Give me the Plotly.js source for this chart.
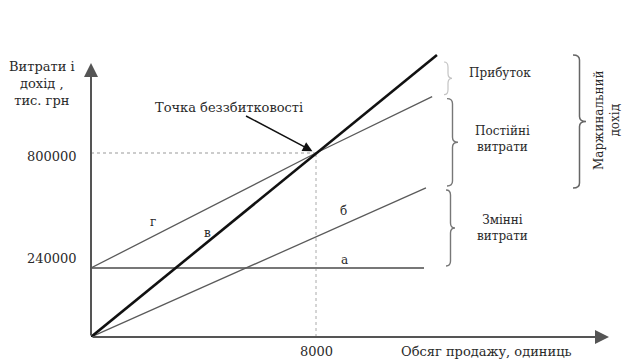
<!DOCTYPE html>
<html><head><meta charset="utf-8">
<script src="https://cdn.plot.ly/plotly-3.0.1.min.js"></script>
<style>html,body{margin:0;padding:0;background:#fff}</style>
</head><body><div id="chart" style="width:623px;height:360px"></div>
<script>
// ---- data ----
const revenueX = [0, 8000, 12300];
const revenueY = [0, 800000, 1226000];
const totalCostX = [0, 8000, 12130];
const totalCostY = [300000, 800000, 1045000];
const variableCostX = [0, 11910];
const variableCostY = [0, 648000];
const fixedCostX = [0, 11840];
const fixedCostY = [300000, 300000];
const breakEvenX = 8000;
const breakEvenY = 800000;
const yTickText = ['240000', '800000'];
const xTickText = ['8000'];
const lineLabels = ['а', 'б', 'в', 'г'];

// ---- layout geometry ----
const W = 623, H = 360;
const M = {l: 91, r: 10, t: 40, b: 23};
const plotW = W - M.l - M.r, plotH = H - M.t - M.b;
const xRange = [0, 18560];
const yRange = [0, 1291300];
const kx = (xRange[1] - xRange[0]) / plotW;
const ky = (yRange[1] - yRange[0]) / plotH;
const px = p => xRange[0] + (p - M.l) * kx;       // pixel -> data x
const py = p => yRange[0] + (H - M.b - p) * ky;   // pixel -> data y
const ppx = p => (p - M.l) / plotW;               // pixel -> paper x
const ppy = p => (H - M.b - p) / plotH;           // pixel -> paper y

const font = {family: 'DejaVu Serif, Liberation Serif, serif', size: 12, color: '#2a2a2a'};
const font13 = Object.assign({}, font, {size: 13});
const gray = '#5a5a5a';

const traces = [
  {x: [0, breakEvenX], y: [breakEvenY, breakEvenY], mode: 'lines', line: {color: '#999', width: 1, dash: 'dot'}},
  {x: [breakEvenX, breakEvenX], y: [0, breakEvenY], mode: 'lines', line: {color: '#aaa', width: 1, dash: 'dot'}},
  {x: fixedCostX, y: fixedCostY, mode: 'lines', line: {color: '#777', width: 1.8}},
  {x: variableCostX, y: variableCostY, mode: 'lines', line: {color: gray, width: 1.3}},
  {x: totalCostX, y: totalCostY, mode: 'lines', line: {color: gray, width: 1.3}},
  {x: revenueX, y: revenueY, mode: 'lines', line: {color: '#111', width: 2.6}}
];
traces.forEach(t => { t.hoverinfo = 'skip'; t.showlegend = false; t.cliponaxis = false; });

function brace(xPix, wPix, yTop, yBot, color, width) {
  const x = px(xPix), w = wPix * kx, h = w / 2, r = 5 * ky, mid = (yTop + yBot) / 2;
  return {
    type: 'path', xref: 'x', yref: 'y', line: {color: color, width: width},
    path: `M ${x},${yTop} Q ${x + h},${yTop} ${x + h},${yTop - r} L ${x + h},${mid + r} ` +
          `Q ${x + h},${mid} ${x + w},${mid} Q ${x + h},${mid} ${x + h},${mid - r} ` +
          `L ${x + h},${yBot + r} Q ${x + h},${yBot} ${x},${yBot}`
  };
}
const revEnd = revenueY[revenueY.length - 1];
const totEnd = totalCostY[totalCostY.length - 1];
const varEnd = variableCostY[variableCostY.length - 1];
const fixY = fixedCostY[0];
const gap = 2 * ky;

const shapes = [
  brace(444, 8, revEnd - 7 * ky, totEnd + gap, '#c4c4c4', 1.2),
  brace(447, 11, totEnd - gap, varEnd + gap, '#777', 1.4),
  brace(446, 9, varEnd - gap, fixY + gap, '#777', 1.4),
  brace(573, 13, revEnd, varEnd, '#666', 1.5)
];

const C = {xanchor: 'center', yanchor: 'middle'};
const ann = (x, y, text, extra) => Object.assign({x: x, y: y, xref: 'x', yref: 'y', text: text, showarrow: false, font: font}, C, extra || {});
const pann = (xp, yp, text, extra) => Object.assign({x: ppx(xp), y: ppy(yp), xref: 'paper', yref: 'paper', text: text, showarrow: false, font: font}, C, extra || {});

const annotations = [
  // axes with arrows
  {x: px(609), y: 0, ax: 0, ay: 0, axref: 'x', ayref: 'y', xref: 'x', yref: 'y', text: '', showarrow: true,
   arrowhead: 2, arrowsize: 1.4, arrowwidth: 2, arrowcolor: '#555', standoff: 0},
  {x: 0, y: py(63), ax: 0, ay: 0, axref: 'x', ayref: 'y', xref: 'x', yref: 'y', text: '', showarrow: true,
   arrowhead: 2, arrowsize: 1.4, arrowwidth: 2, arrowcolor: '#555', standoff: 0},
  // axis titles
  pann(42, 83, 'Витрати і<br>дохід ,<br>тис. грн', {font: font13}),
  pann(486, 351, 'Обсяг продажу, одиниць', {font: font13}),
  // tick labels
  ann(0, breakEvenY, yTickText[1], {xanchor: 'right', xshift: -12, yshift: -3, font: font13}),
  ann(0, fixY, yTickText[0], {xanchor: 'right', xshift: -12, yshift: 10, font: font13}),
  {x: breakEvenX, y: ppy(351), xref: 'x', yref: 'paper', text: xTickText[0], showarrow: false, font: font13, xanchor: 'center', yanchor: 'middle'},
  // break-even pointer
  {x: breakEvenX, y: breakEvenY, xref: 'x', yref: 'y', text: 'Точка беззбитковості', showarrow: true,
   ax: -87, ay: -46, arrowhead: 2, arrowsize: 1.3, arrowwidth: 1.5, arrowcolor: '#111', standoff: 4, font: font13},
  // line labels
  ann(px(344), py(260), lineLabels[0]),
  ann(px(343), py(211), lineLabels[1]),
  ann(px(207), py(233), lineLabels[2]),
  ann(px(153), py(222), lineLabels[3]),
  // brace captions
  ann(px(500), py(73), 'Прибуток'),
  ann(px(502), py(139), 'Постійні<br>витрати'),
  ann(px(502), py(228), 'Змінні<br>витрати'),
  pann(607, 121, 'Маржинальний<br>дохід', {textangle: -90})
];

const layout = {
  width: W, height: H, margin: M, showlegend: false,
  paper_bgcolor: '#fff', plot_bgcolor: '#fff',
  xaxis: {range: xRange, showgrid: false, zeroline: false, showticklabels: false, showline: false, ticks: ''},
  yaxis: {range: yRange, showgrid: false, zeroline: false, showticklabels: false, showline: false, ticks: ''},
  shapes: shapes, annotations: annotations
};
Plotly.newPlot('chart', traces, layout, {staticPlot: true, displayModeBar: false});
</script></body></html>
